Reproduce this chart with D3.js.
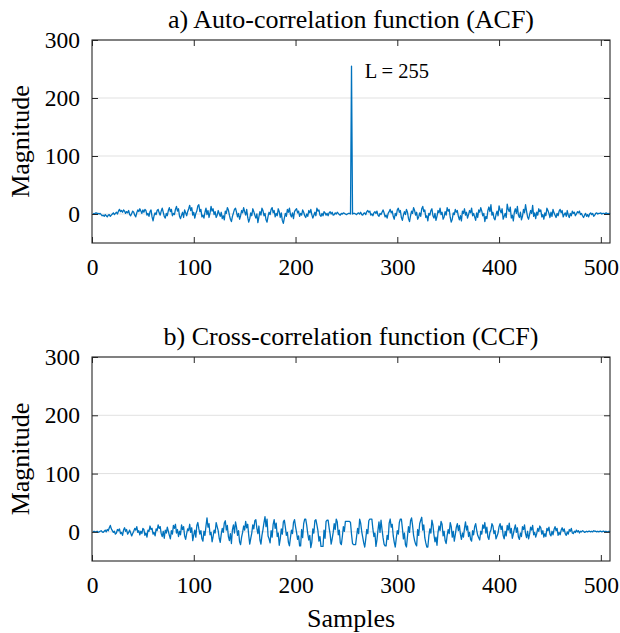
<!DOCTYPE html>
<html><head><meta charset="utf-8">
<script src="https://cdn.jsdelivr.net/npm/d3@7"></script>
<style>body{margin:0;background:#fff} text{font-family:"Liberation Serif","Times New Roman",serif;fill:#000}</style>
</head><body><svg id="c" width="620" height="633"></svg>
<script>
// ACF values, samples 1..509
const acf = [
1,0,1,2,1,1,0,1,-1,-3,-2,-4,-1,-3,-5,-2,-1,-4,-2,0,
2,-1,1,3,0,5,8,4,6,3,7,5,1,4,2,6,-1,-3,1,5,
3,-2,-5,2,7,4,9,5,1,7,3,8,6,-2,1,-4,4,7,-5,-12,
-3,2,-1,6,8,2,-2,5,10,3,-4,-7,1,-3,6,11,4,8,-3,1,
-1,8,13,5,9,-4,-8,-2,3,-6,7,2,-3,4,9,15,6,11,-2,3,
-7,1,5,14,16,4,8,-5,-2,-7,3,10,-1,6,-6,2,13,5,9,-1,
4,-6,-2,6,1,-4,3,-8,-3,-10,5,1,11,7,-2,-9,-13,-4,2,8,
10,3,-5,1,-9,-3,6,2,11,4,-2,8,-6,-14,-8,2,-3,9,4,-2,
-7,0,-15,-5,4,-2,10,6,-3,1,-10,-14,-4,3,-1,8,11,2,6,-5,
1,-3,9,4,-6,2,-11,-16,-7,1,-4,8,3,10,-1,-5,2,-8,4,7,
9,2,5,-4,1,-2,7,3,-3,-6,0,-4,6,2,8,-1,-7,-2,3,-3,
10,5,7,-2,-4,1,-3,4,2,-2,1,-3,2,4,0,3,-2,-1,2,0,
3,1,-1,-2,1,0,2,1,0,-1,0,1,1,0,255,
0,1,1,0,-1,1,2,0,3,-1,-2,1,2,-1,4,6,3,5,-2,0,
-3,2,4,1,5,-2,-4,1,-1,3,7,2,-5,-2,-7,1,4,8,2,5,
-4,-9,1,-3,7,10,3,6,-6,-11,-2,4,-1,8,3,-8,-13,-3,5,1,
11,6,-2,3,-9,-5,2,-4,9,13,4,7,-6,-3,-12,1,-2,6,9,-3,
-7,1,-11,-4,6,2,10,-1,3,-9,-5,4,-2,11,5,8,-6,-14,-9,2,
-1,8,3,6,-4,-10,-3,-12,5,1,9,-2,3,-7,-1,6,2,10,-3,1,
-5,-11,2,-6,7,3,11,5,-3,1,-13,-4,-8,6,12,4,16,-2,3,-7,
-10,-1,5,-3,14,7,2,9,-9,-4,1,-6,17,8,4,12,-7,-2,-12,3,
9,1,13,-2,-6,3,-10,-4,8,2,16,5,-5,-9,-1,6,1,15,-4,2,
-8,3,-2,9,4,7,-5,-1,-9,2,-3,10,6,1,-6,3,-4,8,2,-2,
-6,1,-3,5,8,2,6,-5,-1,2,-4,6,-2,-6,1,-3,5,1,3,-3,
0,4,2,5,-1,1,-3,-6,-2,1,-4,-1,-5,0,2,-1,1,-4,-2,1,
2,0,1,1,2,0,1,1,0,2,1,0,1,0
];
// CCF values, samples 1..509
const ccf = [
0,1,0,0,1,-1,0,1,2,0,-1,1,3,0,4,2,7,11,5,2,
-1,1,-4,-2,4,2,5,-3,-1,-6,3,7,1,4,-4,-1,3,-2,-7,-3,
1,6,3,9,-1,2,-5,1,-3,6,4,-6,-2,-9,3,1,10,4,6,-4,
-1,-7,5,2,12,6,9,-3,-8,1,-11,3,-2,8,1,-6,-12,2,-4,11,
6,13,-2,4,-8,1,-5,12,4,9,-7,-13,-3,5,2,13,-1,7,-15,-5,
3,-9,11,16,5,-4,2,-12,-16,1,-6,10,24,8,14,-5,-1,-17,-8,3,
-2,16,9,2,-11,-18,-4,6,-1,15,19,3,11,-8,-15,-3,-20,4,12,-2,
17,8,-6,2,-17,-22,-9,-1,10,3,18,7,13,-6,-21,-11,-2,12,5,19,
21,6,-3,10,-14,-21,-6,4,16,26,9,22,-7,-12,-19,2,-9,13,21,6,
15,-8,-2,-23,-12,5,-4,17,20,8,-6,-1,-18,-24,-10,3,-3,16,21,9,
-1,-13,-7,-24,-24,4,-10,14,22,22,11,-3,-14,-6,-27,-18,5,-2,19,21,
12,2,-16,-8,-25,-25,-25,3,-11,18,20,20,7,-4,-21,-12,-1,14,4,22,
17,-5,3,-19,-22,-8,9,1,18,18,18,18,18,16,-4,-20,-22,-22,-22,-8,
6,-3,22,15,1,-9,-19,-26,-12,4,-3,19,22,22,22,5,-8,-2,-25,-14,
3,17,-1,20,4,-10,-21,-24,-24,-6,-13,15,22,8,13,-7,-18,-26,-11,2,
-4,16,22,22,6,-12,-2,-22,-26,-8,9,-1,19,24,11,-6,-15,-21,-24,4,
-6,14,20,25,3,12,-10,-19,-26,-26,-7,5,-2,20,12,-5,-17,-9,-23,-1,
10,2,18,13,-7,1,-15,-20,-6,4,-3,16,9,-9,1,-16,-5,8,14,2,
11,-4,-13,-2,-9,6,17,3,10,-8,-1,-13,-16,2,-5,9,14,3,-6,-10,
-14,1,-4,12,6,16,-2,8,-9,-13,-1,3,14,10,-3,2,-12,-7,-2,9,
14,4,10,-6,-12,1,-7,11,3,15,-2,6,-11,-4,5,12,-1,7,-9,-13,
-2,-8,9,4,12,-3,-10,1,-12,-4,8,3,11,-5,-1,-9,-3,6,1,10,
7,-4,2,-9,-3,-8,6,2,8,-4,-7,1,-5,4,9,2,6,-6,-1,-5,
3,7,1,5,-3,-6,0,-4,4,1,6,-2,-3,1,-1,3,0,2,-2,1,
0,2,1,-1,0,1,0,1,1,0,1,0,2,1,1,0,1,0,1,1,
0,1,1,0,1,0,0,1,0
];
const xTicks = [0,100,200,300,400,500];
const yTicks = [0,100,200,300];
const xDomain = [0,509];
const yDomain = [-50,300];
const titles = ["a) Auto-correlation function (ACF)","b) Cross-correlation function (CCF)"];
const peakLabel = "L = 255";
const peakLabelPos = [268, 234];
const xLabel = "Samples", yLabel = "Magnitude";

const svg = d3.select("#c");
svg.append("rect").attr("width",620).attr("height",633).attr("fill","#fff");
const L=92, R=610;
const AX="#262626";
const SERIF='"Liberation Serif","Times New Roman",serif';
function panel(data, top, bottom, title, showX, annot){
  const x = d3.scaleLinear().domain(xDomain).range([L,R]);
  const y = d3.scaleLinear().domain(yDomain).range([bottom,top]);
  const g = svg.append("g");
  g.selectAll("line.grid").data(yTicks).join("line").attr("class","grid")
    .attr("x1",L).attr("x2",R).attr("y1",d=>y(d)).attr("y2",d=>y(d))
    .attr("stroke","#e1e1e1").attr("stroke-width",1);
  g.append("path").datum(data)
    .attr("d", d3.line().x((d,i)=>x(i+1)).y(d=>y(d)))
    .attr("fill","none").attr("stroke","#0072BD").attr("stroke-width",1.3).attr("stroke-linejoin","round");
  const fs = "23.5px";
  const ab = g.append("g").attr("transform",`translate(0,${bottom})`)
    .call(d3.axisBottom(x).tickValues(xTicks).tickSizeInner(-6).tickSizeOuter(0).tickPadding(15));
  const at = g.append("g").attr("transform",`translate(0,${top})`)
    .call(d3.axisTop(x).tickValues(xTicks).tickSizeInner(-6).tickSizeOuter(0).tickFormat(""));
  const al = g.append("g").attr("transform",`translate(${L},0)`)
    .call(d3.axisLeft(y).tickValues(yTicks).tickSizeInner(-6).tickSizeOuter(0).tickPadding(12));
  const ar = g.append("g").attr("transform",`translate(${R},0)`)
    .call(d3.axisRight(y).tickValues(yTicks).tickSizeInner(-6).tickSizeOuter(0).tickFormat(""));
  [ab,at,al,ar].forEach(a=>{
    a.attr("font-family",SERIF);
    a.select(".domain").remove();
    a.selectAll("line").attr("stroke",AX).attr("stroke-width",1);
    a.selectAll("text").style("font-size",fs).attr("fill","#000").style("font-family",SERIF);
  });
  g.append("rect").attr("x",L).attr("y",top).attr("width",R-L).attr("height",bottom-top)
    .attr("fill","none").attr("stroke",AX).attr("stroke-width",1.1);
  g.append("text").attr("x",(L+R)/2).attr("y",top-12).attr("text-anchor","middle")
    .style("font-size","26px").text(title);
  g.append("text").attr("transform",`translate(29,${(top+bottom)/2}) rotate(-90)`)
    .attr("text-anchor","middle").style("font-size","26px").text(yLabel);
  if(showX){
    g.append("text").attr("x",(L+R)/2).attr("y",bottom+66).attr("text-anchor","middle")
      .style("font-size","26px").text(xLabel);
  }
  if(annot){
    g.append("text").attr("x",x(annot[0])).attr("y",y(annot[1])).style("font-size","20.5px").text(peakLabel);
  }
}
panel(acf, 40, 243, titles[0], false, peakLabelPos);
panel(ccf, 357, 561, titles[1], true, null);
</script></body></html>
